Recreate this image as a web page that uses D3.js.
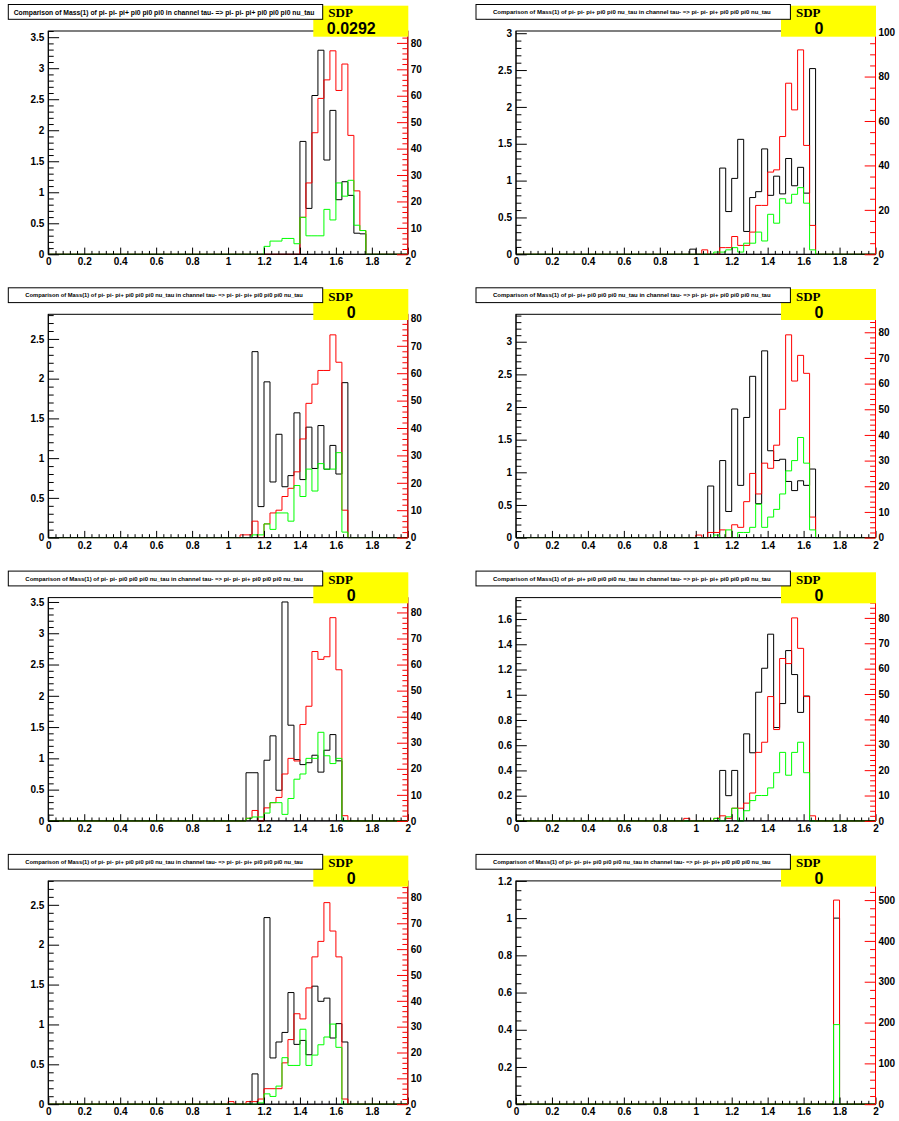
<!DOCTYPE html>
<html>
<head>
<meta charset="utf-8">
<script src="https://cdn.jsdelivr.net/npm/d3@7"></script>
<style>
  body { margin: 0; background: #fff; }
</style>
</head>
<body>
<svg id="canvas" width="899" height="1121"></svg>
<script>
// histograms: 60 bins of width 1/30 on [0,2]; arrays below hold bins 26..53
const firstBin = 26;
const nBins = 60;

const titles = [
  "Comparison of Mass(1) of pi- pi- pi+ pi0 pi0 pi0 in channel tau- => pi- pi- pi+ pi0 pi0 pi0 nu_tau",
  "Comparison of Mass(1) of pi- pi- pi+ pi0 pi0 nu_tau in channel tau- => pi- pi- pi+ pi0 pi0 pi0 nu_tau",
  "Comparison of Mass(1) of pi- pi- pi+ pi0 pi0 pi0 nu_tau in channel tau- => pi- pi- pi+ pi0 pi0 pi0 nu_tau",
  "Comparison of Mass(1) of pi- pi+ pi0 pi0 pi0 nu_tau in channel tau- => pi- pi- pi+ pi0 pi0 pi0 nu_tau",
  "Comparison of Mass(1) of pi- pi- pi0 pi0 pi0 nu_tau in channel tau- => pi- pi- pi+ pi0 pi0 pi0 nu_tau",
  "Comparison of Mass(1) of pi- pi+ pi0 pi0 pi0 nu_tau in channel tau- => pi- pi- pi+ pi0 pi0 pi0 nu_tau",
  "Comparison of Mass(1) of pi- pi- pi+ pi0 pi0 pi0 nu_tau in channel tau- => pi- pi- pi+ pi0 pi0 pi0 nu_tau",
  "Comparison of Mass(1) of pi- pi- pi+ pi0 pi0 pi0 nu_tau in channel tau- => pi- pi- pi+ pi0 pi0 pi0 nu_tau"
];
const titleWidth = [301, 278, 278, 278, 278, 278, 278, 278];
const sdpValues = ["0.0292", "0", "0", "0", "0", "0", "0", "0"];

// axis ranges (left = black, right = red/green)
const leftMax = [3.6, 3.03, 2.81, 3.42, 3.57, 1.77, 2.80, 1.2];
const leftStep = [0.5, 0.5, 0.5, 0.5, 0.5, 0.2, 0.5, 0.2];
const leftSub = [5, 5, 5, 5, 5, 4, 5, 4];
const rightMax = [84.5, 100.5, 81.5, 87, 85.7, 88, 86.4, 547];
const rightStep = [10, 20, 10, 10, 10, 10, 10, 100];
const rightSub = [5, 4, 5, 5, 5, 5, 5, 5];
const xTicks = [0, 0.2, 0.4, 0.6, 0.8, 1, 1.2, 1.4, 1.6, 1.8, 2];

const black = [
  [0,0,0,0,0,0,0,0,0,0, 0,0,0,0,0,0, 1.82,0.74,2.56,3.29,1.52,2.32,0.88,1.17,0.95,0.34,0.33, 0],
  [0,0,0,0.07,0,0,0,0, 1.17,0.58,1.03,1.56,0.31,0.77,0.85,1.43,0.80,1.06,0.82,1.30,0.93,1.18,0.83,2.52, 0,0,0,0],
  [0,0,0,0,0,0,0,0, 2.34,0.39,1.96,0.70,1.30,0.64,0.78,1.57,0.73,1.39,0.87,1.41,0.86,1.16,0.80,1.95, 0,0,0,0],
  [0,0,0,0,0,0,0.79,0, 1.18,0.40,1.97,0.80,1.84,2.47,0.52,2.86,1.33,1.18,1.20,0.86,0.72,0.87,0.80,1.05, 0,0,0,0],
  [0,0,0,0,0,0,0,0.77, 0.77,0,0.97,1.36,0.49,3.5,1.53,0.98,0.90,0.93,1.05,0.78,1.13,1.38,0.96,0, 0,0,0,0],
  [0,0,0,0,0,0,0,0, 0.40,0.20,0.40,0,0.69,0.54,1.02,1.21,1.48,0.74,0.93,1.35,1.16,0.86,0.99,0, 0,0,0,0],
  [0,0,0,0,0,0,0,0, 0.38,0,2.34,0.58,0.78,0.90,1.40,0.75,0.80,0.62,1.48,1.29,1.33,0.83,1.01,0.78, 0,0,0,0],
  [0,0,0,0,0,0,0,0, 0,0,0,0,0,0,0,0,0,0,0,0,0,0,0,0, 0,0,0,1.0]
];
const red = [
  [0,0,0,0,0,0,0,0,0,0, 0,0,0,0,0,0, 14,27,46,59,66,77,62,72,45,24,9, 0],
  [0,0,0,0,0,2,0,0, 3,3,8,4,4,10,22,22,37,38,53,77,65,92,49,13, 0,0,0,0],
  [0,0,0,0,0,0,1,1, 6,0,5,9,10,15,18,24,36,49,56,61,61,74,64,10, 0,0,0,0],
  [0,0,0,0,1,0,2,2, 3,0,5,4,14,25,17,29,27,36,50,79,61,71,64,8, 0,0,0,0],
  [0,0,0,0,0,0,0,1, 4,0,5,7,9,18,24,23,37,44,65,62,63,78,58,2, 0,0,0,0],
  [0,0,1,0,0,0,0,1, 2,1,5,5,7,11,27,31,49,36,64,62,80,68,49,2, 0,0,0,0],
  [0,0,0,0,1,0,0,1, 1,2,6,6,6,16,25,35,33,45,57,63,78,67,57,2, 0,0,0,0],
  [0,0,0,0,0,0,0,0, 0,0,0,0,0,0,0,0,0,0,0,0,0,0,0,0, 0,0,0,500]
];
const green = [
  [0,0,0,0,0,0,0,0,0,0, 3,5,5,6,6,4, 14,7,7,7,17,13,27,22,28,11,9, 0],
  [0,0,0,0,0,0,0,1, 1,2,3,1,5,5,10,6,18,14,25,23,27,30,23,2, 0,0,0,0],
  [0,0,0,0,0,0,0,0, 1,1,5,3,9,9,6,19,15,25,17,27,25,25,31,2, 0,0,0,0],
  [0,0,0,0,0,0,0,1, 0,3,0,2,2,4,13,4,8,11,17,26,30,39,29,3, 0,0,0,0],
  [0,0,0,0,0,0,0,1, 1.5,1.5,3,7,7,2.5,8.6,16,18,24,24,34,25,22,24,0, 0,0,0,0],
  [0,0,0,0,0,0,0,1, 0,1.6,5,0,4,8,10,10,13,19,27,18,27,31,19,0, 0,0,0,0],
  [0,0,0,0,0,0,0,0, 0,0.5,4,3,7,18,15,15,29,15,19,23,26,31,22,0, 0,0,0,0],
  [0,0,0,0,0,0,0,0, 0,0,0,0,0,0,0,0,0,0,0,0,0,0,0,0, 0,0,0,195]
];

const svg = d3.select("#canvas");
svg.append("rect").attr("width", 899).attr("height", 1121).attr("fill", "#fff");

const fontSans = "'Liberation Sans', Arial, Helvetica, sans-serif";
const fmt = d => String(+d.toFixed(2));
const rowPitch = 283.3;
const frameW = 359.5, frameH = 223.3;

function ticksWithMinor(max, step, sub) {
  let major = [], minor = [];
  let m = step / sub;
  for (let i = 0; i * m <= max + 1e-9; i++) {
    let v = i * m;
    if (i % sub === 0) major.push(v); else minor.push(v);
  }
  return [major, minor];
}

function histPath(vals, x, y) {
  let full = new Array(nBins).fill(0);
  vals.forEach((v, i) => { full[firstBin + i] = v; });
  let pts = [[x(0), y(0)]];
  full.forEach((v, k) => {
    pts.push([x(k / 30), y(v)]);
    pts.push([x((k + 1) / 30), y(v)]);
  });
  pts.push([x(2), y(0)]);
  return d3.line()(pts);
}

for (let p = 0; p < 8; p++) {
  let col = p % 2, row = Math.floor(p / 2);
  let fx = col === 0 ? 48.3 : 516;
  let fy = 31 + row * rowPitch;
  let g = svg.append("g").attr("transform", "translate(" + fx + "," + fy + ")");

  let x = d3.scaleLinear().domain([0, 2]).range([0, frameW]);
  let yL = d3.scaleLinear().domain([0, leftMax[p]]).range([frameH, 0]);
  let yR = d3.scaleLinear().domain([0, rightMax[p]]).range([frameH, 0]);

  // frame
  g.append("rect").attr("width", frameW).attr("height", frameH)
    .attr("fill", "none").attr("stroke", "#000").attr("stroke-width", 1);

  // histograms
  g.append("path").attr("d", histPath(black[p], x, yL))
    .attr("fill", "none").attr("stroke", "#000").attr("stroke-width", 1);
  g.append("path").attr("d", histPath(red[p], x, yR))
    .attr("fill", "none").attr("stroke", "#ff0000").attr("stroke-width", 1);
  g.append("path").attr("d", histPath(green[p], x, yR))
    .attr("fill", "none").attr("stroke", "#00ff00").attr("stroke-width", 1);

  // x axis
  let xMinor = d3.range(0, 2.0001, 0.04).filter(v => Math.abs(v * 5 - Math.round(v * 5)) > 1e-6);
  g.append("g").attr("transform", "translate(0," + frameH + ")")
    .call(d3.axisBottom(x).tickValues(xMinor).tickSizeInner(-3.4).tickSizeOuter(0).tickFormat(""))
    .call(a => a.select(".domain").remove());
  g.append("g").attr("transform", "translate(0," + frameH + ")")
    .call(d3.axisBottom(x).tickValues(xTicks).tickSizeInner(-6.7).tickSizeOuter(0).tickPadding(4).tickFormat(fmt))
    .call(a => a.select(".domain").attr("d", "M0,0H" + frameW).attr("stroke", "#000"));

  // left axis
  let [lMaj, lMin] = ticksWithMinor(leftMax[p], leftStep[p], leftSub[p]);
  g.append("g")
    .call(d3.axisLeft(yL).tickValues(lMin).tickSizeInner(-5.4).tickSizeOuter(0).tickFormat(""))
    .call(a => a.select(".domain").remove());
  g.append("g")
    .call(d3.axisLeft(yL).tickValues(lMaj).tickSizeInner(-10.8).tickSizeOuter(0).tickPadding(4).tickFormat(fmt))
    .call(a => a.select(".domain").attr("d", "M0,0V" + frameH).attr("stroke", "#000"));

  // right axis (red)
  let [rMaj, rMin] = ticksWithMinor(rightMax[p], rightStep[p], rightSub[p]);
  g.append("g").attr("transform", "translate(" + frameW + ",0)")
    .call(d3.axisRight(yR).tickValues(rMin).tickSizeInner(-5.4).tickSizeOuter(0).tickFormat(""))
    .call(a => a.select(".domain").remove())
    .selectAll("line").attr("stroke", "#ff0000");
  let ra = g.append("g").attr("transform", "translate(" + frameW + ",0)")
    .call(d3.axisRight(yR).tickValues(rMaj).tickSizeInner(-10.8).tickSizeOuter(0).tickPadding(3).tickFormat(fmt));
  ra.select(".domain").attr("d", "M0,0V" + frameH).attr("stroke", "#ff0000");
  ra.selectAll("line").attr("stroke", "#ff0000");

  g.selectAll("text").attr("font-family", fontSans).attr("font-weight", "bold")
    .attr("font-size", 10).attr("fill", "#000");

  // SDP box
  let bx = col === 0 ? 313.3 : 781;
  let by = 5.7 + row * rowPitch;
  svg.append("rect").attr("x", bx).attr("y", by).attr("width", 95).attr("height", 31)
    .attr("fill", "#ffff00");
  svg.append("text").attr("x", bx + 15).attr("y", by + 11.6)
    .attr("font-family", "'Liberation Serif', 'Times New Roman', serif").attr("font-weight", "bold")
    .attr("font-size", 13).text("SDP");
  svg.append("text").attr("x", bx + 38).attr("y", by + 28.6).attr("text-anchor", "middle")
    .attr("font-family", fontSans).attr("font-weight", "bold")
    .attr("font-size", 16).text(sdpValues[p]);

  // title box, text scaled to fit the measured width
  let tx = col === 0 ? 8.3 : 476;
  let ty = 4.5 + row * rowPitch;
  svg.append("rect").attr("x", tx).attr("y", ty).attr("width", 314.4).attr("height", 14.8)
    .attr("fill", "#fff").attr("stroke", "#000").attr("stroke-width", 1);
  let tt = svg.append("text").attr("x", tx + 155.8).attr("y", ty + 7.5).attr("text-anchor", "middle")
    .attr("dominant-baseline", "central")
    .attr("font-family", fontSans).attr("font-weight", "bold")
    .attr("font-size", 10).text(titles[p]);
  let w = tt.node().getComputedTextLength();
  tt.attr("font-size", 10 * titleWidth[p] / w);
}
</script>
</body>
</html>
